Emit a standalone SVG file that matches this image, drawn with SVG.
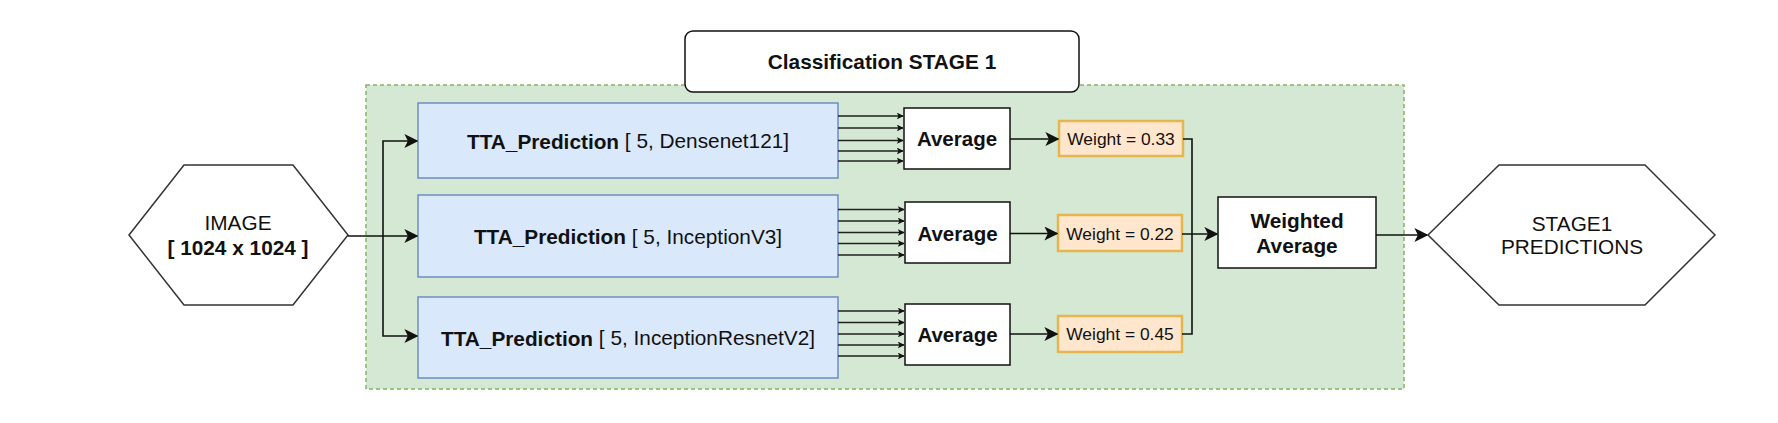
<svg xmlns="http://www.w3.org/2000/svg" width="1778" height="423" viewBox="0 0 1778 423">
<defs>
<style>
text{font-family:"Liberation Sans",Arial,sans-serif;fill:#111;text-anchor:middle;dominant-baseline:central}
.b{font-weight:bold}
.hex{fill:#fff;stroke:#333;stroke-width:1.5}
.tta{fill:#dae8fc;stroke:#6c8ebf;stroke-width:1.5}
.avg{fill:#fff;stroke:#111;stroke-width:1.5}
.w{fill:#ffe6cc;stroke:#e3b64f;stroke-width:2.5}
.c{fill:none;stroke:#111;stroke-width:1.6}
.cs{fill:none;stroke:#222;stroke-width:1.6}
</style>
<marker id="big" viewBox="0 0 10 10" refX="9" refY="5" markerWidth="14" markerHeight="14" markerUnits="userSpaceOnUse" orient="auto"><path d="M0,0 L10,5 L0,10 L2.5,5 Z" fill="#111"/></marker>
<marker id="sm" viewBox="0 0 10 10" refX="9" refY="5" markerWidth="7" markerHeight="7" markerUnits="userSpaceOnUse" orient="auto"><path d="M0,0 L10,5 L0,10 L2.5,5 Z" fill="#111"/></marker>
</defs>
<rect width="1778" height="423" fill="#fff"/>
<g id="container">
<rect x="366" y="85" width="1038" height="304" fill="#d5e8d4" stroke="#82b366" stroke-width="1.5" stroke-dasharray="4,3"/>
</g>
<g id="title">
<rect x="685" y="31" width="394" height="61" rx="8" fill="#fff" stroke="#111" stroke-width="1.5"/>
<text x="882" y="61.5" class="b" font-size="20.8">Classification STAGE 1</text>
</g>
<g id="image">
<polygon class="hex" points="129,235 184,165 293,165 348,235 293,305 184,305"/>
<text x="238" y="222" font-size="20.8">IMAGE</text>
<text x="238" y="247" class="b" font-size="20.8">[ 1024 x 1024 ]</text>
</g>
<g id="tta1">
<rect class="tta" x="418" y="103" width="420" height="75"/>
<text x="628" y="140.5" font-size="20.8"><tspan class="b">TTA_Prediction</tspan> [ 5, Densenet121]</text>
</g>
<g id="tta2">
<rect class="tta" x="418" y="195" width="420" height="82"/>
<text x="628" y="236" font-size="20.8"><tspan class="b">TTA_Prediction</tspan> [ 5, InceptionV3]</text>
</g>
<g id="tta3">
<rect class="tta" x="418" y="297" width="420" height="81"/>
<text x="628" y="337.5" font-size="20.8"><tspan class="b">TTA_Prediction</tspan> [ 5, InceptionResnetV2]</text>
</g>
<g id="avg1">
<rect class="avg" x="904" y="108" width="106" height="61"/>
<text x="957" y="138.5" class="b" font-size="20.5">Average</text>
</g>
<g id="avg2">
<rect class="avg" x="905" y="202" width="105" height="61"/>
<text x="957.5" y="233" class="b" font-size="20.5">Average</text>
</g>
<g id="avg3">
<rect class="avg" x="905" y="304" width="105" height="61"/>
<text x="957.5" y="334.5" class="b" font-size="20.5">Average</text>
</g>
<g id="w1">
<rect class="w" x="1059" y="121" width="124" height="35"/>
<text x="1121" y="139" font-size="17.4">Weight = 0.33</text>
</g>
<g id="w2">
<rect class="w" x="1058" y="215" width="124" height="36"/>
<text x="1120" y="233.5" font-size="17.4">Weight = 0.22</text>
</g>
<g id="w3">
<rect class="w" x="1058" y="316" width="124" height="36"/>
<text x="1120" y="334" font-size="17.4">Weight = 0.45</text>
</g>
<g id="wavg">
<rect class="avg" x="1218" y="197" width="158" height="71"/>
<text x="1297" y="220" class="b" font-size="20.8">Weighted</text>
<text x="1297" y="245" class="b" font-size="20.8">Average</text>
</g>
<g id="stage1">
<polygon class="hex" points="1428,235 1499,165 1645,165 1715,235 1645,305 1499,305"/>
<text x="1572" y="223" font-size="20.8">STAGE1</text>
<text x="1572" y="246" font-size="20.8">PREDICTIONS</text>
</g>
<g id="connectors">
<path class="c" d="M348,236 H417" stroke-width="2.5" marker-end="url(#big)"/>
<path class="c" d="M383,236 V141 H417" marker-end="url(#big)"/>
<path class="c" d="M383,236 V336 H417" marker-end="url(#big)"/>
<path class="cs" d="M838,116 H903" marker-end="url(#sm)"/>
<path class="cs" d="M838,128 H903" marker-end="url(#sm)"/>
<path class="cs" d="M838,140.5 H903" marker-end="url(#sm)"/>
<path class="cs" d="M838,151 H903" marker-end="url(#sm)"/>
<path class="cs" d="M838,161 H903" marker-end="url(#sm)"/>
<path class="cs" d="M838,209.5 H904" marker-end="url(#sm)"/>
<path class="cs" d="M838,221 H904" marker-end="url(#sm)"/>
<path class="cs" d="M838,232.5 H904" marker-end="url(#sm)"/>
<path class="cs" d="M838,243.5 H904" marker-end="url(#sm)"/>
<path class="cs" d="M838,255 H904" marker-end="url(#sm)"/>
<path class="cs" d="M838,311 H904" marker-end="url(#sm)"/>
<path class="cs" d="M838,322.5 H904" marker-end="url(#sm)"/>
<path class="cs" d="M838,334 H904" marker-end="url(#sm)"/>
<path class="cs" d="M838,345 H904" marker-end="url(#sm)"/>
<path class="cs" d="M838,356 H904" marker-end="url(#sm)"/>
<path class="c" d="M1010,139 H1058" marker-end="url(#big)"/>
<path class="c" d="M1010,233.5 H1057" marker-end="url(#big)"/>
<path class="c" d="M1010,334 H1057" marker-end="url(#big)"/>
<path class="c" d="M1183,139 H1192 V234"/>
<path class="c" d="M1182,334 H1192 V234"/>
<path class="c" d="M1182,234 H1217" marker-end="url(#big)"/>
<path class="c" d="M1376,235 H1427" marker-end="url(#big)"/>
</g>
</svg>
